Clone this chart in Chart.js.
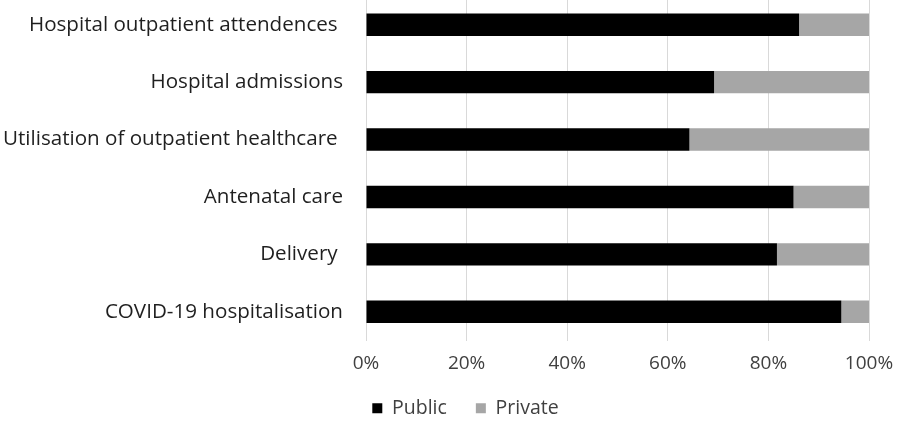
<!DOCTYPE html>
<html>
<head>
<meta charset="utf-8">
<script src="https://cdn.jsdelivr.net/npm/chart.js@4"></script>
<style>
  html, body { margin: 0; padding: 0; background: #ffffff; overflow: hidden; width: 903px; height: 421px; }
  #wrap { position: absolute; left: 0; top: -4px; width: 903px; height: 432px; }
</style>
</head>
<body>
<div id="wrap"><canvas id="c"></canvas></div>
<script>
const categories = [
  "Hospital outpatient attendences ",
  "Hospital admissions",
  "Utilisation of outpatient healthcare ",
  "Antenatal care",
  "Delivery ",
  "COVID-19 hospitalisation"
];
const publicValues = [86.1, 69.2, 64.3, 85.0, 81.7, 94.5];
const privateValues = [13.9, 30.8, 35.7, 15.0, 18.3, 5.5];
const seriesNames = ["Public", "Private"];
const tickValues = [0, 20, 40, 60, 80, 100];

const legendOffset = {
  id: 'legendOffset',
  afterLayout(chart) {
    chart.legend.left += 31;
    chart.legend.right += 31;
  }
};

new Chart(document.getElementById('c'), {
  type: 'bar',
  data: {
    labels: categories,
    datasets: [
      { label: seriesNames[0], data: publicValues, backgroundColor: '#000000', borderWidth: 0 },
      { label: seriesNames[1], data: privateValues, backgroundColor: '#a6a6a6', borderWidth: 0 }
    ]
  },
  plugins: [legendOffset],
  options: {
    indexAxis: 'y',
    responsive: true,
    maintainAspectRatio: false,
    animation: false,
    layout: { padding: { left: 0, right: 34, top: 0, bottom: 0 } },
    datasets: { bar: { categoryPercentage: 1, barPercentage: 0.39 } },
    scales: {
      x: {
        stacked: true,
        min: 0,
        max: 100,
        afterBuildTicks: (scale) => { scale.ticks = tickValues.map(v => ({ value: v })); },
        afterFit: (scale) => { scale.height = 29; scale.paddingLeft = 0; scale.paddingRight = 0; },
        ticks: {
          callback: (v) => v + '%',
          font: { family: 'Open Sans', size: 19 },
          color: '#404040',
          padding: 12,
          maxRotation: 0
        },
        grid: { color: '#d9d9d9', lineWidth: 1, drawTicks: false },
        border: { display: false }
      },
      y: {
        stacked: true,
        afterFit: (scale) => { scale.width = 366; scale.paddingTop = 0; scale.paddingBottom = 0; },
        ticks: {
          font: { family: 'Open Sans', size: 20.6 },
          color: '#1f1f1f',
          padding: 23
        },
        grid: { display: false, drawTicks: false },
        border: { display: false }
      }
    },
    plugins: {
      legend: {
        position: 'bottom',
        labels: {
          boxWidth: 10,
          boxHeight: 10,
          padding: 29,
          color: '#404040',
          font: { family: 'Open Sans', size: 19.5 }
        }
      },
      tooltip: { enabled: false }
    }
  }
});
</script>
</body>
</html>
